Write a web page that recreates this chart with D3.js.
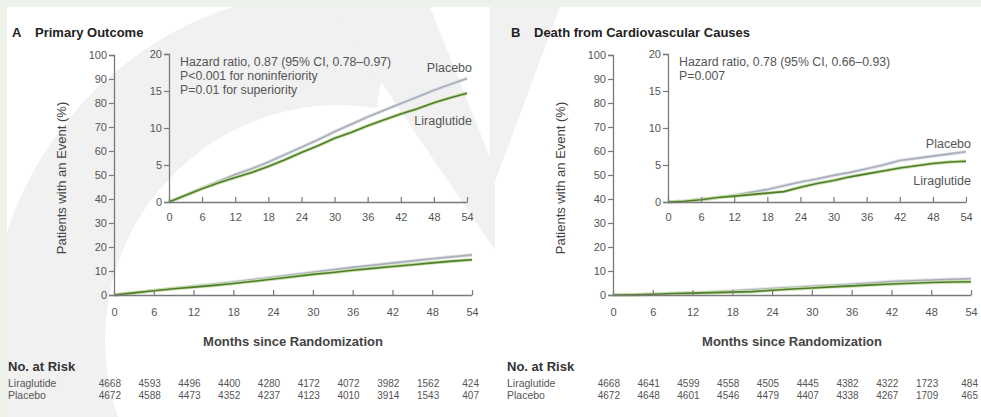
<!DOCTYPE html>
<html lang="en">
<head>
  <meta charset="UTF-8">
  <title>LEADER cumulative incidence</title>
  <style>
    body { margin: 0; background: #fff; }
    svg text { font-family: "Liberation Sans", Arial, sans-serif; }
  </style>
</head>
<body>
  <svg></svg>
  <script src="https://cdn.jsdelivr.net/npm/d3@7"></script>
  <script>
    const months = [0, 3, 6, 9, 12, 15, 18, 21, 24, 27, 30, 33, 36, 39, 42, 45, 48, 51, 54]
    const placeboPrimary = [0, 0.9, 1.9, 2.8, 3.7, 4.5, 5.4, 6.4, 7.4, 8.4, 9.5, 10.5, 11.5, 12.4, 13.3, 14.2, 15.1, 15.9, 16.7]
    const liraPrimary    = [0, 0.9, 1.8, 2.6, 3.3, 4.0, 4.8, 5.7, 6.7, 7.6, 8.6, 9.4, 10.3, 11.1, 11.9, 12.6, 13.4, 14.1, 14.7]
    const placeboCV = [0, 0.1, 0.4, 0.6, 0.9, 1.3, 1.7, 2.2, 2.7, 3.1, 3.6, 4.0, 4.5, 5.0, 5.6, 5.9, 6.2, 6.5, 6.8]
    const liraCV    = [0, 0.1, 0.3, 0.6, 0.8, 1.0, 1.2, 1.4, 2.0, 2.5, 2.9, 3.4, 3.8, 4.2, 4.6, 4.9, 5.2, 5.4, 5.5]

    const riskMonths = [0, 6, 12, 18, 24, 30, 36, 42, 48, 54]
    const riskLiraPrimary    = [4668, 4593, 4496, 4400, 4280, 4172, 4072, 3982, 1562, 424]
    const riskPlaceboPrimary = [4672, 4588, 4473, 4352, 4237, 4123, 4010, 3914, 1543, 407]
    const riskLiraCV    = [4668, 4641, 4599, 4558, 4505, 4445, 4382, 4322, 1723, 484]
    const riskPlaceboCV = [4672, 4648, 4601, 4546, 4479, 4407, 4338, 4267, 1709, 465]

    const mainTicks = [0, 10, 20, 30, 40, 50, 60, 70, 80, 90, 100]
    const insetTicks = [0, 5, 10, 15, 20]

    var width = 981
    var height = 417
    var svg = d3.select("svg").attr("width", width).attr("height", height)

    // faint watermark shapes behind the figure
    var wm = svg.append("g").attr("fill", "#f1f1f1")
    wm.append("path").attr("transform", "translate(340,340)")
      .attr("d", d3.arc()({innerRadius: 235, outerRadius: 350, startAngle: -Math.PI * 0.62, endAngle: Math.PI * 0.05}))
    wm.append("path").attr("d", "M330,7 L430,7 L495,170 L495,250 Z")
    wm.append("path").attr("d", "M490,7 L560,7 L490,195 Z")

    // pale frame strip of the source page
    svg.append("rect").attr("x", 0).attr("y", 0).attr("width", width).attr("height", 7).attr("fill", "#edf3ea")
    svg.append("rect").attr("x", 0).attr("y", 0).attr("width", 7).attr("height", height).attr("fill", "#edf3ea")

    var axisColor = "#7a7a7a"
    var textColor = "#555"

    function styleAxis(g) {
      g.select(".domain").attr("stroke", axisColor).attr("stroke-width", 1.3)
      g.selectAll(".tick line").attr("stroke", axisColor).attr("stroke-width", 1.2)
      g.selectAll(".tick text").attr("fill", textColor).attr("font-size", 11)
    }

    function drawCurves(g, x, y, plac, lira) {
      var line = d3.line().x((d, i) => x(months[i])).y(d => y(d))
      g.append("path").attr("d", line(plac)).attr("fill", "none").attr("stroke", "#dde1e8").attr("stroke-width", 3.5)
      g.append("path").attr("d", line(plac)).attr("fill", "none").attr("stroke", "#a9aeb8").attr("stroke-width", 1.6)
      g.append("path").attr("d", line(lira)).attr("fill", "none").attr("stroke", "#c9e0a8").attr("stroke-width", 3.5)
      g.append("path").attr("d", line(lira)).attr("fill", "none").attr("stroke", "#4d7d2c").attr("stroke-width", 1.6)
    }

    function panel(dx, p) {
      var g = svg.append("g").attr("transform", `translate(${dx},0)`)

      // title
      var t = g.append("text").attr("x", 12).attr("y", 37).attr("font-size", 13).attr("font-weight", 700).attr("fill", "#222")
      t.append("tspan").text(p.letter)
      t.append("tspan").attr("x", 35).text(p.title)

      var x = d3.scaleLinear().domain([0, 54]).range([114, 472])
      var y = d3.scaleLinear().domain([0, 100]).range([295, 55])
      var xi = d3.scaleLinear().domain([0, 54]).range([169, 467])
      var yi = d3.scaleLinear().domain([0, 20]).range([202, 54])

      drawCurves(g, x, y, p.plac, p.lira)
      drawCurves(g, xi, yi, p.plac, p.lira)

      g.append("g").attr("transform", "translate(0,295)")
        .call(d3.axisBottom(x).tickValues(riskMonths).tickSizeInner(-5).tickSizeOuter(0).tickPadding(13))
        .call(styleAxis)
      g.append("g").attr("transform", "translate(114,0)")
        .call(d3.axisLeft(y).tickValues(mainTicks).tickSize(5).tickPadding(2))
        .call(styleAxis)
      g.append("g").attr("transform", "translate(0,202)")
        .call(d3.axisBottom(xi).tickValues(riskMonths).tickSizeInner(-5).tickSizeOuter(0).tickPadding(11))
        .call(styleAxis)
      g.append("g").attr("transform", "translate(169,0)")
        .call(d3.axisLeft(yi).tickValues(insetTicks).tickSize(5).tickPadding(2))
        .call(styleAxis)

      // statistics note
      g.selectAll(".note").data(p.note).join("text")
        .attr("x", 180).attr("y", (d, i) => 66 + i * 14)
        .attr("font-size", 12.3).attr("fill", textColor).text(d => d)

      // curve labels
      g.append("text").attr("x", xi(54) + 5).attr("y", yi(p.plac[p.plac.length - 1]) + p.placLabelDy)
        .attr("text-anchor", "end").attr("font-size", 12.5).attr("fill", textColor).text("Placebo")
      g.append("text").attr("x", xi(54) + 5).attr("y", yi(p.lira[p.lira.length - 1]) + p.liraLabelDy)
        .attr("text-anchor", "end").attr("font-size", 12.5).attr("fill", textColor).text("Liraglutide")

      // axis titles
      g.append("text").attr("transform", "translate(66,178) rotate(-90)").attr("text-anchor", "middle")
        .attr("font-size", 13).attr("fill", "#444").text("Patients with an Event (%)")
      g.append("text").attr("x", (x(0) + x(54)) / 2).attr("y", 346).attr("text-anchor", "middle")
        .attr("font-size", 13).attr("font-weight", 700).attr("fill", "#444").text("Months since Randomization")

      // number at risk
      g.append("text").attr("x", 8).attr("y", 371).attr("font-size", 13).attr("font-weight", 700).attr("fill", "#333").text("No. at Risk")
      var rows = [["Liraglutide", p.riskLira, 387], ["Placebo", p.riskPlac, 399]]
      rows.forEach(r => {
        g.append("text").attr("x", 8).attr("y", r[2]).attr("font-size", 10.5).attr("fill", textColor).text(r[0])
        g.selectAll(null).data(r[1]).join("text")
          .attr("x", (d, i) => x(riskMonths[i]) + 7).attr("y", r[2])
          .attr("text-anchor", "end").attr("font-size", 10).attr("fill", textColor).text(d => d)
      })
    }

    panel(0, {
      letter: "A", title: "Primary Outcome",
      plac: placeboPrimary, lira: liraPrimary,
      note: ["Hazard ratio, 0.87 (95% CI, 0.78\u20130.97)", "P<0.001 for noninferiority", "P=0.01 for superiority"],
      placLabelDy: -6, liraLabelDy: 32,
      riskLira: riskLiraPrimary, riskPlac: riskPlaceboPrimary
    })
    panel(499, {
      letter: "B", title: "Death from Cardiovascular Causes",
      plac: placeboCV, lira: liraCV,
      note: ["Hazard ratio, 0.78 (95% CI, 0.66\u20130.93)", "P=0.007"],
      placLabelDy: -4, liraLabelDy: 24,
      riskLira: riskLiraCV, riskPlac: riskPlaceboCV
    })
  </script>
</body>
</html>
